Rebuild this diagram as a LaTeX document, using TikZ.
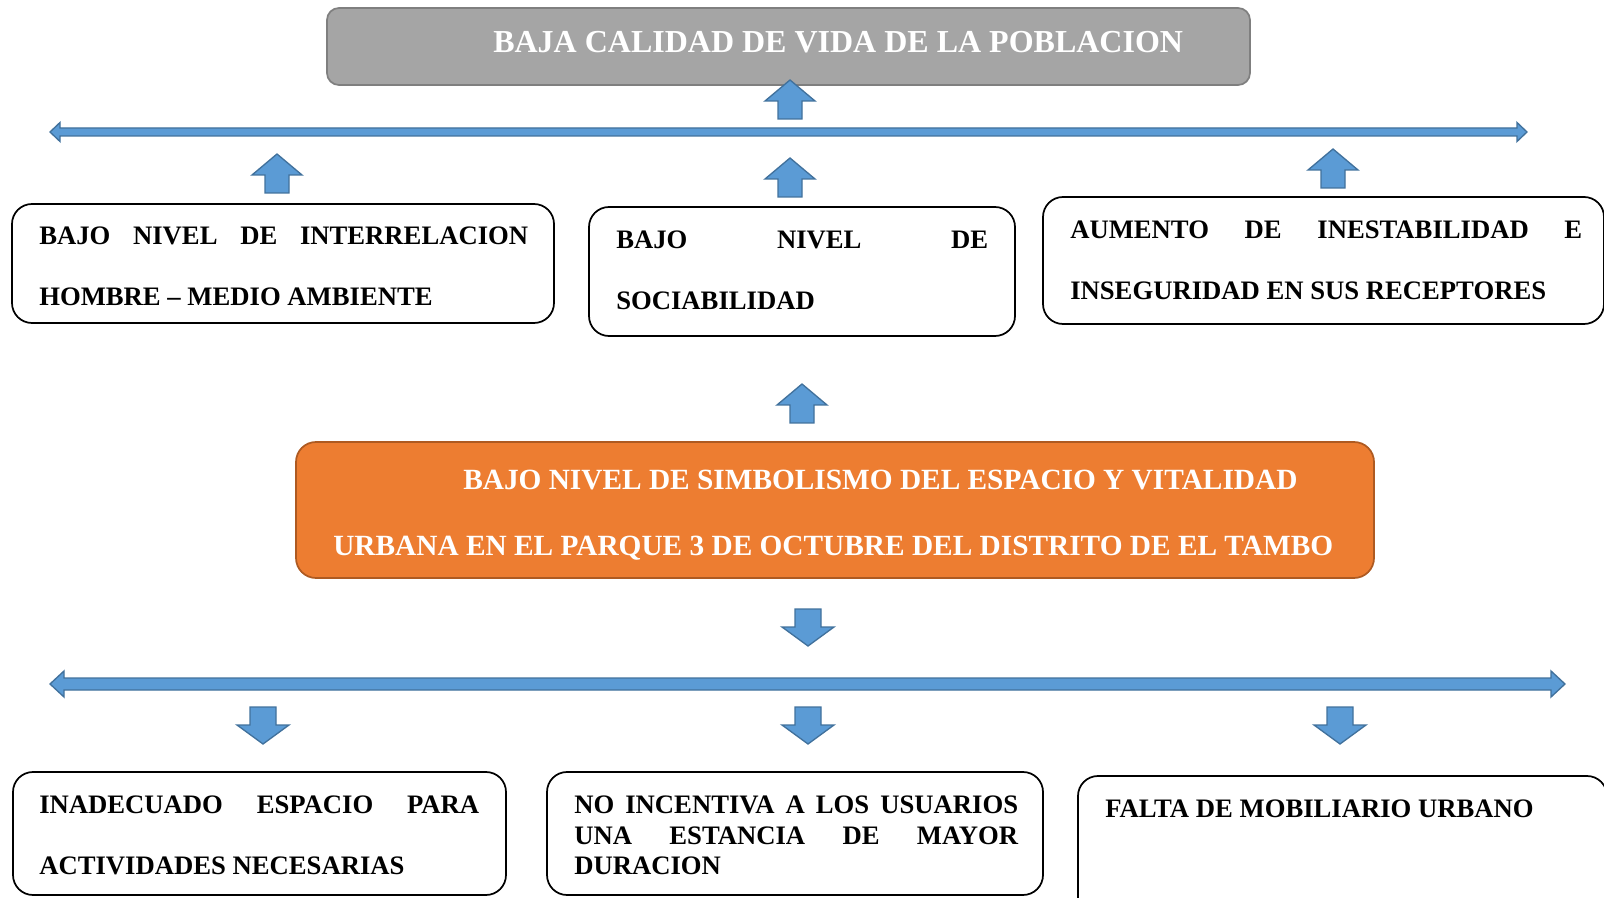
\documentclass[tikz,border=0pt]{standalone}
\usepackage{fontspec}
\setmainfont{Liberation Serif}
\usetikzlibrary{fit}
\definecolor{arrfill}{HTML}{5B9BD5}
\definecolor{arrline}{HTML}{41719C}
\definecolor{grayfill}{HTML}{A5A5A5}
\definecolor{grayline}{HTML}{7F7F7F}
\definecolor{orfill}{HTML}{ED7D31}
\definecolor{orline}{HTML}{AE5A21}
\begin{document}
\begin{tikzpicture}[x=0.75pt,y=-0.75pt,
  wbox/.style={draw=black, line width=1.3pt, rounded corners=15pt, fill=white, inner sep=0pt},
  gbox/.style={draw=grayline, line width=1.3pt, rounded corners=9pt, fill=grayfill, inner sep=0pt},
  obox/.style={draw=orline, line width=1.3pt, rounded corners=15pt, fill=orfill, inner sep=0pt},
  txt/.style={inner sep=0pt, anchor=north west, align=left, font=\bfseries\fontsize{20}{45.75}\selectfont},
  txtb/.style={inner sep=0pt, anchor=north west, align=left, font=\bfseries\fontsize{20}{22.9}\selectfont},
  otxt/.style={inner sep=0pt, anchor=north west, align=left, text=white, font=\bfseries\fontsize{22}{49.5}\selectfont},
  ttxt/.style={inner sep=0pt, anchor=north west, align=left, text=white, font=\bfseries\fontsize{24}{28}\selectfont},
  blk/.style={fill=arrfill, draw=arrline, line width=1pt, line join=miter},
  uparrow/.pic={\path[blk] (0,0) -- (25,21) -- (12,21) -- (12,39) -- (-12,39) -- (-12,21) -- (-25,21) -- cycle;},
  downarrow/.pic={\path[blk] (0,0) -- (26,-19) -- (13,-19) -- (13,-37) -- (-13,-37) -- (-13,-19) -- (-26,-19) -- cycle;}
]
\useasboundingbox (0,0) rectangle (1604,898);
\clip (0,0) rectangle (1604,898);

% top title
\node[gbox, fit={(327,8) (1250,85)}] (title) {};
\node[ttxt] (titletxt) at (493,31.5) {BAJA CALIDAD DE VIDA DE LA POBLACION};

% upper double arrow
\path[blk] (50,132) -- (60,122.5) -- (60,128) -- (1517,128) -- (1517,122.5) -- (1527,132)
  -- (1517,141.5) -- (1517,136) -- (60,136) -- (60,141.5) -- cycle;

\pic at (790,80) {uparrow};
\pic at (277,154) {uparrow};
\pic at (790,158) {uparrow};
\pic at (1333,149) {uparrow};

% effect boxes
\node[wbox, fit={(12,204) (554,323)}] (b1) {};
\node[txt] (t1) at (39,227) {\makebox[366.75pt][s]{BAJO NIVEL DE INTERRELACION}\\HOMBRE – MEDIO AMBIENTE};

\node[wbox, fit={(589,207) (1015,336)}] (b2) {};
\node[txt] (t2) at (616,231) {\makebox[279pt][s]{BAJO NIVEL DE}\\SOCIABILIDAD};

\node[wbox, fit={(1043,197) (1604,324)}] (b3) {};
\node[txt] (t3) at (1070,221) {\makebox[384pt][s]{AUMENTO DE INESTABILIDAD E}\\INSEGURIDAD EN SUS RECEPTORES};

\pic at (802,384) {uparrow};

% central problem
\node[obox, fit={(296,442) (1374,578)}] (prob) {};
\node[otxt] (probtxt) at (333,469.5) {\hspace*{97.5pt}BAJO NIVEL DE SIMBOLISMO DEL ESPACIO Y VITALIDAD\\URBANA EN EL PARQUE 3 DE OCTUBRE DEL DISTRITO DE EL TAMBO};

\pic at (808,646) {downarrow};

% lower double arrow
\path[blk] (50,684) -- (64,671) -- (64,678) -- (1551,678) -- (1551,671) -- (1565,684)
  -- (1551,697) -- (1551,690) -- (64,690) -- (64,697) -- cycle;

\pic at (263,744) {downarrow};
\pic at (808,744) {downarrow};
\pic at (1340,744) {downarrow};

% cause boxes
\node[wbox, fit={(13,772) (506,895)}] (b4) {};
\node[txt] (t4) at (39,796) {\makebox[330pt][s]{INADECUADO ESPACIO PARA}\\ACTIVIDADES NECESARIAS};

\node[wbox, fit={(547,772) (1043,895)}] (b5) {};
\node[txtb] (t5) at (574,796) {\makebox[333pt][s]{NO INCENTIVA A LOS USUARIOS}\\\makebox[333pt][s]{UNA ESTANCIA DE MAYOR}\\DURACION};

\node[wbox, fit={(1078,776) (1607,940)}] (b6) {};
\node[txt] (t6) at (1105,800) {FALTA DE MOBILIARIO URBANO};
\end{tikzpicture}
\end{document}
